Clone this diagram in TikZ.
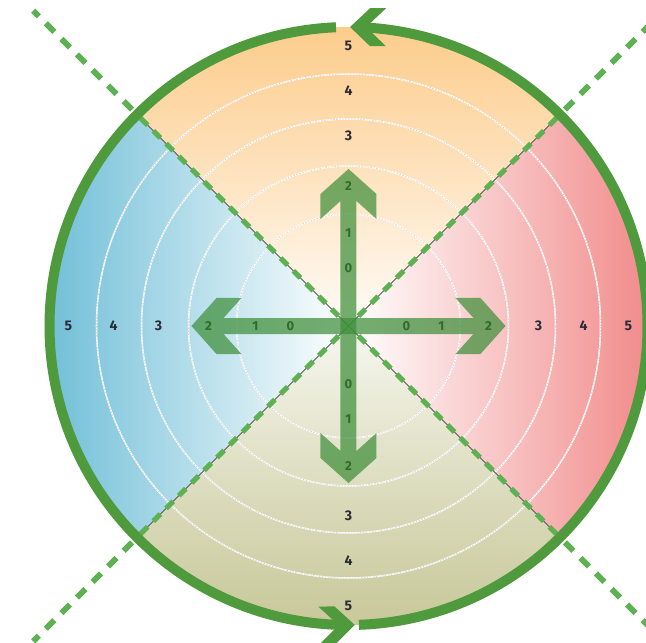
\documentclass[tikz,border=0pt]{standalone}
\usepackage{fontspec}
\setsansfont{Fira Sans}
\usepackage{tikz}
\definecolor{ringgreen}{HTML}{4E9A3C}
\definecolor{dashgreen}{HTML}{5DB153}
\definecolor{armgreen}{HTML}{3F8F3A}
\definecolor{numgreen}{HTML}{2F6B2A}
\definecolor{ink}{HTML}{2B2B38}
\definecolor{qorange}{HTML}{FCC882}
\definecolor{qred}{HTML}{F08080}
\definecolor{qblue}{HTML}{64B9D4}
\definecolor{qolive}{HTML}{C4C492}

\begin{document}
\begin{tikzpicture}[x=1pt,y=1pt,
  ringnum/.style={font=\sffamily\bfseries\fontsize{14}{14}\selectfont, text=ink, inner sep=0pt},
  armnum/.style={font=\sffamily\bfseries\fontsize{13}{13}\selectfont, text=numgreen, inner sep=0pt},
  level/.style={white, line width=1.5pt},
  leveldash/.style={gray!45, line width=0.5pt, dash pattern=on 1.5pt off 1.5pt},
  split/.style={dashgreen, line width=5pt, dash pattern=on 10pt off 8pt},
  splitout/.style={dashgreen, line width=6pt, dash pattern=on 12pt off 10pt},
  ring/.style={ringgreen, line width=10pt}]
  \useasboundingbox (-348.5,-317) rectangle (297.5,326);
  \clip (-348.5,-317) rectangle (297.5,326);
  % quadrants
  \shade[top color=qorange, bottom color=qorange!6!white, middle color=qorange!55!white]
    (0,0) -- (45:299) arc[start angle=45, end angle=135, radius=299] -- cycle;
  \shade[left color=qblue, right color=white, middle color=qblue!50!white]
    (0,0) -- (135:299) arc[start angle=135, end angle=225, radius=299] -- cycle;
  \shade[bottom color=qolive, top color=qolive!14!white, middle color=qolive!60!white]
    (0,0) -- (225:299) arc[start angle=225, end angle=315, radius=299] -- cycle;
  \shade[left color=white, right color=qred, middle color=qred!50!white]
    (0,0) -- (-45:299) arc[start angle=-45, end angle=45, radius=299] -- cycle;
  % level circles
  \foreach \r in {112,160,207,252} {
    \draw[level] (0,0) circle (\r);
    \draw[leveldash] (0,0) circle (\r);
  }
  % diagonals
  \foreach \a in {45,135,225,315} {
    \draw[black!65, line width=1pt] (0,0) -- (\a:299);
    \draw[split] (\a:14) -- (\a:299);
    \draw[splitout] (\a:306) -- (\a:446);
  }
  % the two double arrows
  \foreach \rot in {0,90}
    \fill[armgreen, fill opacity=0.72, rotate=\rot]
      (157,0) -- (132,28) -- (107,28) -- (125,8) -- (-125,8) -- (-107,28) -- (-132,28)
      -- (-157,0) -- (-132,-28) -- (-107,-28) -- (-125,-8) -- (125,-8) -- (107,-28)
      -- (132,-28) -- cycle;
  % outer ring
  \draw[ring] (-88:299) arc[start angle=-88, end angle=87.2, radius=299];
  \draw[ring] (92.4:299) arc[start angle=92.4, end angle=269.0, radius=299];
  \fill[ringgreen, shift={(89.7:299)}, rotate=179.7]
    (0,0) -- (-20,19) -- (-36,19) -- (-16,0) -- (-36,-19) -- (-20,-19) -- cycle;
  \fill[ringgreen, shift={(271.2:299)}, rotate=1.2]
    (0,0) -- (-20,19) -- (-36,19) -- (-16,0) -- (-36,-19) -- (-20,-19) -- cycle;
  % labels
  \foreach \a/\d in {90/n,0/e,270/s,180/w} {
    \foreach \v/\r in {3/190,4/235,5/280}
      \node[ringnum] (r\d\v) at (\a:\r) {\v};
    \foreach \v/\r in {0/58,1/93,2/140}
      \node[armnum] (a\d\v) at (\a:\r) {\v};
  }
\end{tikzpicture}
\end{document}
